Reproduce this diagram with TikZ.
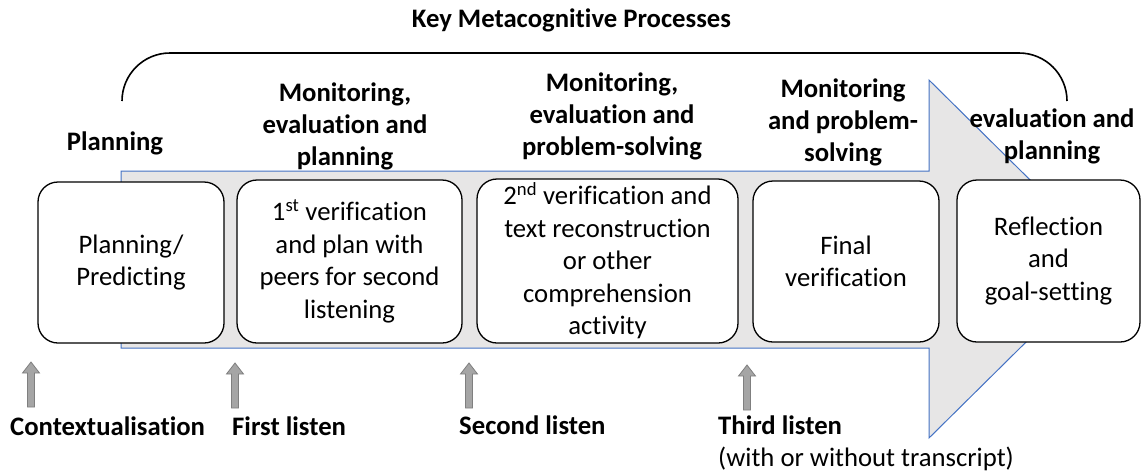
\documentclass[tikz,border=0pt]{standalone}
\usepackage{fontspec}
\setmainfont{Carlito}[Ligatures=NoCommon]
\definecolor{arrowfill}{HTML}{E7E6E6}
\definecolor{arrowline}{HTML}{4472C4}
\definecolor{smallfill}{HTML}{A5A5A5}
\definecolor{smallline}{HTML}{7F7F7F}
\begin{document}
\begin{tikzpicture}[x=1pt,y=-1pt,
  stepbox/.style={draw=black, line width=1.3pt, fill=white, rounded corners=20pt,
    inner sep=0pt, align=center, font=\fontsize{26.7}{32.5}\selectfont},
  heading/.style={align=center, inner sep=0pt, font=\bfseries\fontsize{26.7}{32}\selectfont},
  listen/.style={anchor=base west, inner sep=0pt, font=\bfseries\fontsize{26.7}{32}\selectfont},
  note/.style={anchor=base west, inner sep=0pt, font=\fontsize{26.7}{32}\selectfont},
  uparrow/.pic={\filldraw[fill=smallfill, draw=smallline, line width=0.8pt]
    (-3.5,0) -- (-3.5,-34) -- (-8.5,-34) -- (0,-45) -- (8.5,-34) -- (3.5,-34) -- (3.5,0) -- cycle;}
]
\useasboundingbox (0,0) rectangle (1142,472);

% big process arrow
\filldraw[fill=arrowfill, draw=arrowline, line width=1pt]
  (121,171) -- (929,171) -- (929,80) -- (1110,259) -- (929,438) -- (929,348) -- (121,348) -- cycle;

% bracket
\draw[line width=1.6pt, rounded corners=48pt] (122,101) -- (122,53) -- (1067,53) -- (1067,101);

% title
\node[anchor=base, inner sep=0pt, font=\bfseries\fontsize{26.7}{32}\selectfont] (title) at (571.5,27) {Key Metacognitive Processes};

% headings
\node[heading] (h1) at (115,143) {Planning};
\node[heading] (h2) at (345,126) {Monitoring,\\evaluation and\\planning};
\node[heading] (h3) at (612,116) {Monitoring,\\evaluation and\\problem-solving};
\node[heading] (h4) at (843,122) {Monitoring\\and problem-\\solving};
\node[heading] (h5) at (1052,136) {evaluation and\\planning};

% step boxes
\node[stepbox, minimum width=186pt, minimum height=161pt] (b1) at (131,262.5) {Planning/\\Predicting};
\node[stepbox, minimum width=225pt, minimum height=163pt] (b2) at (349.5,261.5) {1\textsuperscript{st} verification\\and plan with\\peers for second\\listening};
\node[stepbox, minimum width=261pt, minimum height=164pt] (b3) at (607.5,261) {2\textsuperscript{nd} verification and\\text reconstruction\\or other\\comprehension\\activity};
\node[stepbox, minimum width=186pt, minimum height=161pt] (b4) at (846,261.5) {Final\\verification};
\node[stepbox, minimum width=183pt, minimum height=162pt] (b5) at (1048.5,261) {Reflection\\and\\goal-setting};

% listening arrows
\pic at (31,407) {uparrow};
\pic at (235,408) {uparrow};
\pic at (469,408) {uparrow};
\pic at (747,410) {uparrow};

% listening labels
\node[listen] (l1) at (10,435) {Contextualisation};
\node[listen] (l2) at (232,435) {First listen};
\node[listen] (l3) at (459,434) {Second listen};
\node[listen] (l4) at (718,434) {Third listen};
\node[note] (l4b) at (718,466) {(with or without transcript)};
\end{tikzpicture}
\end{document}
